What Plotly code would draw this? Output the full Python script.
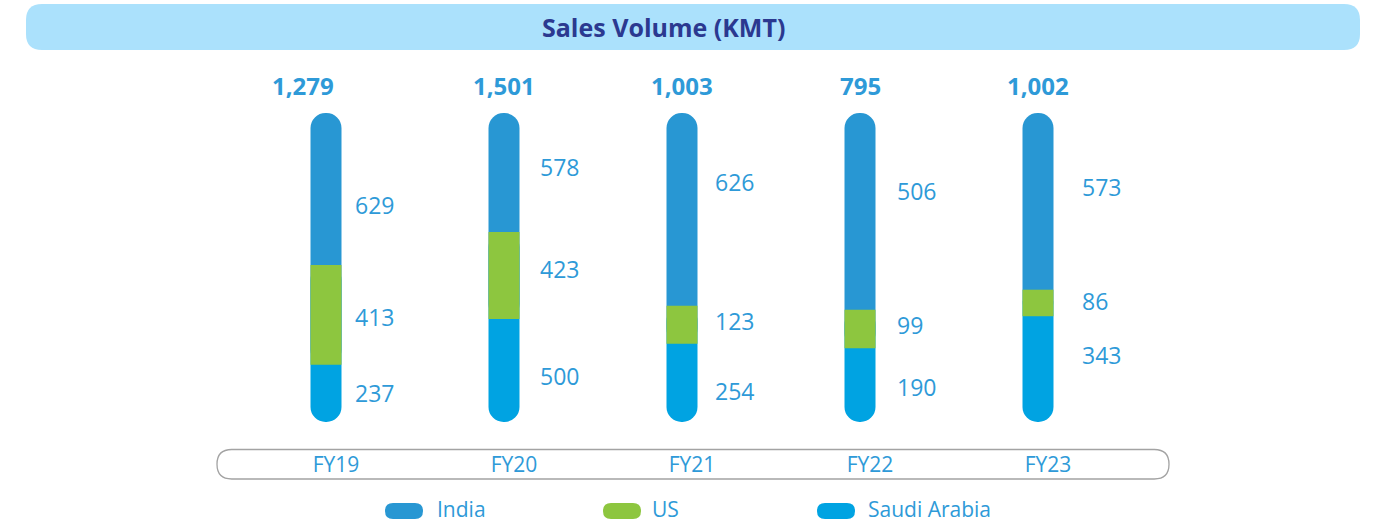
import plotly.graph_objects as go
import pandas as pd

# data (KMT)
years = ["FY19", "FY20", "FY21", "FY22", "FY23"]
india = [629, 578, 626, 506, 573]
us = [413, 423, 123, 99, 86]
saudi = [237, 500, 254, 190, 343]
totals = [1279, 1501, 1003, 795, 1002]

df = pd.DataFrame({"year": years, "India": india, "US": us, "Saudi Arabia": saudi})
tot = df[["India", "US", "Saudi Arabia"]].sum(axis=1)
df["sa_pct"] = df["Saudi Arabia"] / tot * 100
df["us_pct"] = df["US"] / tot * 100
df["in_pct"] = df["India"] / tot * 100

C_INDIA = "#2897D3"
C_US = "#8DC63F"
C_SAUDI = "#00A3E2"
C_TEXT = "#2E9AD8"
FONT = "Open Sans"

W, H = 1382, 522
ML, MR, MT, MB = 237, 255, 113, 100
PW, PH = W - ML - MR, H - MT - MB


def px2x(px):
    return (px - ML) / PW


def py2y(py):
    return (H - MB - py) / PH


def pill(x0, y0, x1, y1, r):
    # rounded rectangle in pixels -> path in paper coords
    pts = [
        ("M", [(x0 + r, y0)]),
        ("L", [(x1 - r, y0)]),
        ("Q", [(x1, y0), (x1, y0 + r)]),
        ("L", [(x1, y1 - r)]),
        ("Q", [(x1, y1), (x1 - r, y1)]),
        ("L", [(x0 + r, y1)]),
        ("Q", [(x0, y1), (x0, y1 - r)]),
        ("L", [(x0, y0 + r)]),
        ("Q", [(x0, y0), (x0 + r, y0)]),
    ]
    s = ""
    for cmd, ps in pts:
        s += cmd + " " + " ".join(f"{px2x(a):.5f},{py2y(b):.5f}" for a, b in ps) + " "
    return s + "Z"


fig = go.Figure()
bw = 31 / 178
# saudi (rounded bottom; its rounded top is hidden under the US segment)
fig.add_trace(go.Bar(x=df["year"], y=df["sa_pct"] + df["us_pct"], base=[0] * len(years), width=bw,
                     marker=dict(color=C_SAUDI, line_width=0, cornerradius="50%"),
                     name="Saudi Arabia", hoverinfo="skip"))
# india (rounded top; its rounded bottom is hidden under the US segment)
fig.add_trace(go.Bar(x=df["year"], y=df["us_pct"] + df["in_pct"], base=df["sa_pct"], width=bw,
                     marker=dict(color=C_INDIA, line_width=0, cornerradius="50%"),
                     name="India", hoverinfo="skip"))
fig.add_trace(go.Bar(x=df["year"], y=df["us_pct"], base=df["sa_pct"], width=bw,
                     marker=dict(color=C_US, line_width=0, cornerradius=0),
                     name="US", hoverinfo="skip"))

ann = []
# totals above bars
total_dx = [-23, 0, 0, 0, 0]
for i, y in enumerate(years):
    ann.append(dict(x=y, y=100, xref="x", yref="y", text=f"{totals[i]:,}", showarrow=False,
                    yshift=28, xshift=total_dx[i], yanchor="middle",
                    font=dict(family=FONT, size=24, color=C_TEXT, weight="bold")))

# segment labels
label_dx = [27, 34, 31, 35, 42]
dy_in = [-16, 5, 27, 20, 14]
dy_us = [-2, 7, 4, 4, 2]
dy_sa = [0, -5, -8, -2, 14]
for i, y in enumerate(years):
    sa, us_p, in_p = df["sa_pct"][i], df["us_pct"][i], df["in_pct"][i]
    segs = [(sa / 2, saudi[i], dy_sa[i]),
            (sa + us_p / 2, us[i], dy_us[i]),
            (sa + us_p + in_p / 2, india[i], dy_in[i])]
    for ym, v, dy in segs:
        ann.append(dict(x=y, y=ym, xref="x", yref="y", text=str(v), showarrow=False,
                        xanchor="left", yanchor="middle", xshift=label_dx[i], yshift=dy,
                        font=dict(family=FONT, size=23, color=C_TEXT)))

# title
ann.append(dict(x=px2x(663), y=py2y(27), xref="paper", yref="paper", text="<b>Sales Volume (KMT)</b>",
                showarrow=False, xanchor="center", yanchor="middle",
                font=dict(family=FONT, size=25, color="#2B3990")))

shapes = [
    dict(type="path", xref="paper", yref="paper", path=pill(26, 4, 1360, 50, 16),
         fillcolor="#ABE1FC", line_width=0, layer="below"),
    dict(type="path", xref="paper", yref="paper", path=pill(217, 449.5, 1169, 479, 14.7),
         fillcolor="rgba(0,0,0,0)", line=dict(color="#A3A3A3", width=1.3)),
]
# legend
legend_items = [("India", C_INDIA, 385, 435), ("US", C_US, 603, 650), ("Saudi Arabia", C_SAUDI, 817, 866)]
for name, col, sx, tx in legend_items:
    shapes.append(dict(type="path", xref="paper", yref="paper", path=pill(sx, 503, sx + 38, 519, 8),
                       fillcolor=col, line_width=0))
    ann.append(dict(x=px2x(tx), y=py2y(509), xref="paper", yref="paper", text=name, showarrow=False,
                    xanchor="left", yanchor="middle",
                    font=dict(family=FONT, size=21, color=C_TEXT)))

fig.update_layout(
    width=W, height=H,
    margin=dict(l=ML, r=MR, t=MT, b=MB, pad=0),
    barmode="overlay",
    showlegend=False,
    plot_bgcolor="white", paper_bgcolor="white",
    annotations=ann, shapes=shapes,
    xaxis=dict(range=[-0.5, 4.5], showgrid=False, zeroline=False, showline=False, ticks="",
               tickfont=dict(family=FONT, size=21, color=C_TEXT),
               ticklabelstandoff=28, ticklabelshift=10),
    yaxis=dict(range=[0, 100], visible=False),
)

fig.write_html("out.html", config={"displayModeBar": False},
               post_script="document.body.style.margin='0px';document.body.style.overflow='hidden';")
